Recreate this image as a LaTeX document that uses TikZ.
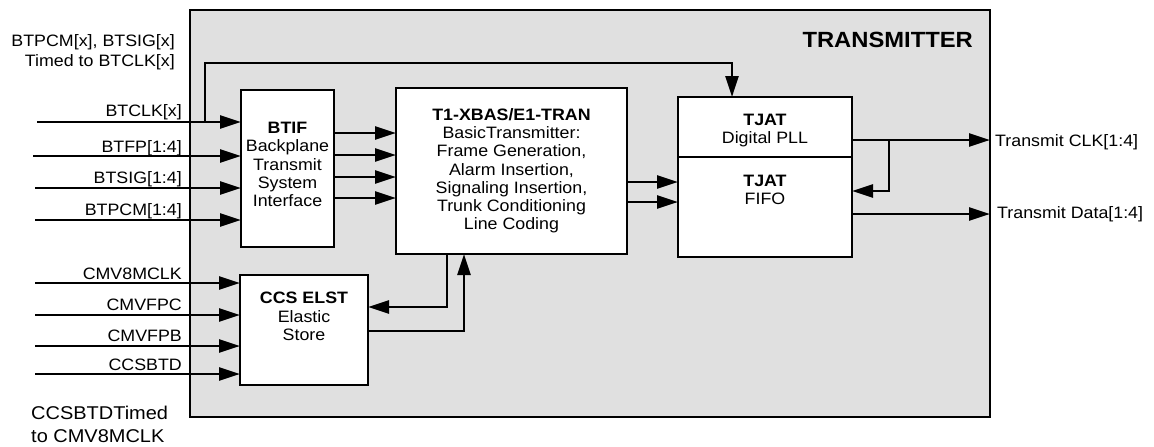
\documentclass[tikz,border=0pt]{standalone}
\usepackage{fontspec}
\setmainfont[FakeStretch=1.08]{Liberation Sans}
\usetikzlibrary{arrows.meta,positioning}

\begin{document}
\begin{tikzpicture}[x=1pt,y=-1pt,font=\fontsize{16.5}{18.3}\selectfont,box/.style={draw,line width=1.8pt,fill=white,inner sep=0pt,outer sep=0pt},txt/.style={inner sep=0pt,align=center},lbl/.style={inner sep=0pt},sig/.style={line width=2.5pt},->,>={Triangle[length=21pt,width=13pt]}]
\useasboundingbox (0,0) rectangle (1154,447);
\node[box,fill=black!12,minimum width=800pt,minimum height=407pt](tx) at (590,213.5){};
\node[lbl,font=\fontsize{22}{26}\selectfont\bfseries,anchor=north east](title) at (973,32){TRANSMITTER};
\node[box,minimum width=93pt,minimum height=157pt](btif) at (287.5,168.5){};
\node[txt,below=32pt of btif.north](btif-t){\textbf{BTIF}\\Backplane\\Transmit\\System\\Interface};
\node[box,minimum width=231pt,minimum height=166pt](xbas) at (511.5,171){};
\node[txt,below=20pt of xbas.north](xbas-t){\textbf{T1-XBAS/E1-TRAN}\\BasicTransmitter:\\Frame Generation,\\Alarm Insertion,\\Signaling Insertion,\\Trunk Conditioning\\Line Coding};
\node[box,minimum width=174pt,minimum height=60pt](pll) at (765,127){};
\node[txt,below=17pt of pll.north](pll-t){\textbf{TJAT}\\Digital PLL};
\node[box,minimum width=174pt,minimum height=100pt](fifo) at (765,207){};
\node[txt,below=18pt of fifo.north](fifo-t){\textbf{TJAT}\\FIFO};
\node[box,minimum width=128pt,minimum height=110pt](elst) at (304,330){};
\node[txt,below=17pt of elst.north](elst-t){\textbf{CCS ELST}\\Elastic\\Store};
\node[lbl,align=right,anchor=north east,font=\fontsize{16.5}{20}\selectfont](note-bt) at (175,34){BTPCM[x], BTSIG[x]\\Timed to BTCLK[x]};
\node[lbl,align=left,anchor=north west,font=\fontsize{18.5}{23}\selectfont](note-ccs) at (31,406){CCSBTDTimed\\to CMV8MCLK};
\coordinate(in-clk) at (37,122);\coordinate(in-fp) at (33,156);\coordinate(in-sig) at (35,188);\coordinate(in-pcm) at (35,220);
\coordinate(in-mclk) at (35,283);\coordinate(in-fpc) at (35,315);\coordinate(in-fpb) at (35,346);\coordinate(in-btd) at (35,374);
\node[lbl,anchor=base east](l-clk) at (182,116){BTCLK[x]};
\node[lbl,anchor=base east](l-fp) at (182,152){BTFP[1:4]};
\node[lbl,anchor=base east](l-sig) at (182,183){BTSIG[1:4]};
\node[lbl,anchor=base east](l-pcm) at (182,215){BTPCM[1:4]};
\node[lbl,anchor=base east](l-mclk) at (182,279){CMV8MCLK};
\node[lbl,anchor=base east](l-fpc) at (182,310){CMVFPC};
\node[lbl,anchor=base east](l-fpb) at (182,341){CMVFPB};
\node[lbl,anchor=base east](l-btd) at (182,370){CCSBTD};
\node[lbl,anchor=base west](l-oclk) at (995,146.5){Transmit CLK[1:4]};
\node[lbl,anchor=base west](l-odata) at (997,218){Transmit Data[1:4]};
\coordinate(tap) at (205,122);\coordinate(tap2) at (889,140);
\draw[sig](in-clk)--(btif.west|-in-clk);\draw[sig](in-fp)--(btif.west|-in-fp);\draw[sig](in-sig)--(btif.west|-in-sig);\draw[sig](in-pcm)--(btif.west|-in-pcm);
\draw[sig](in-mclk)--(elst.west|-in-mclk);\draw[sig](in-fpc)--(elst.west|-in-fpc);\draw[sig](in-fpb)--(elst.west|-in-fpb);\draw[sig](in-btd)--(elst.west|-in-btd);
\draw[sig](tap)--(205,63)-|([xshift=-33pt]pll.north);
\draw[sig](btif.east|-0,133)--(xbas.west|-0,133);\draw[sig](btif.east|-0,155)--(xbas.west|-0,155);\draw[sig](btif.east|-0,177)--(xbas.west|-0,177);\draw[sig](btif.east|-0,198)--(xbas.west|-0,198);
\draw[sig](xbas.east|-0,182)--(fifo.west|-0,182);\draw[sig](xbas.east|-0,202)--(fifo.west|-0,202);
\draw[sig](pll.east|-tap2)--(tx.east|-tap2);\draw[sig](tap2)|-(fifo.east|-0,191);\draw[sig](fifo.east|-0,214)--(tx.east|-0,214);
\draw[sig]([xshift=-64.5pt]xbas.south)|-(elst.east|-0,307);\draw[sig](elst.east|-0,331)-|([xshift=-47.5pt]xbas.south);
\end{tikzpicture}
\end{document}
